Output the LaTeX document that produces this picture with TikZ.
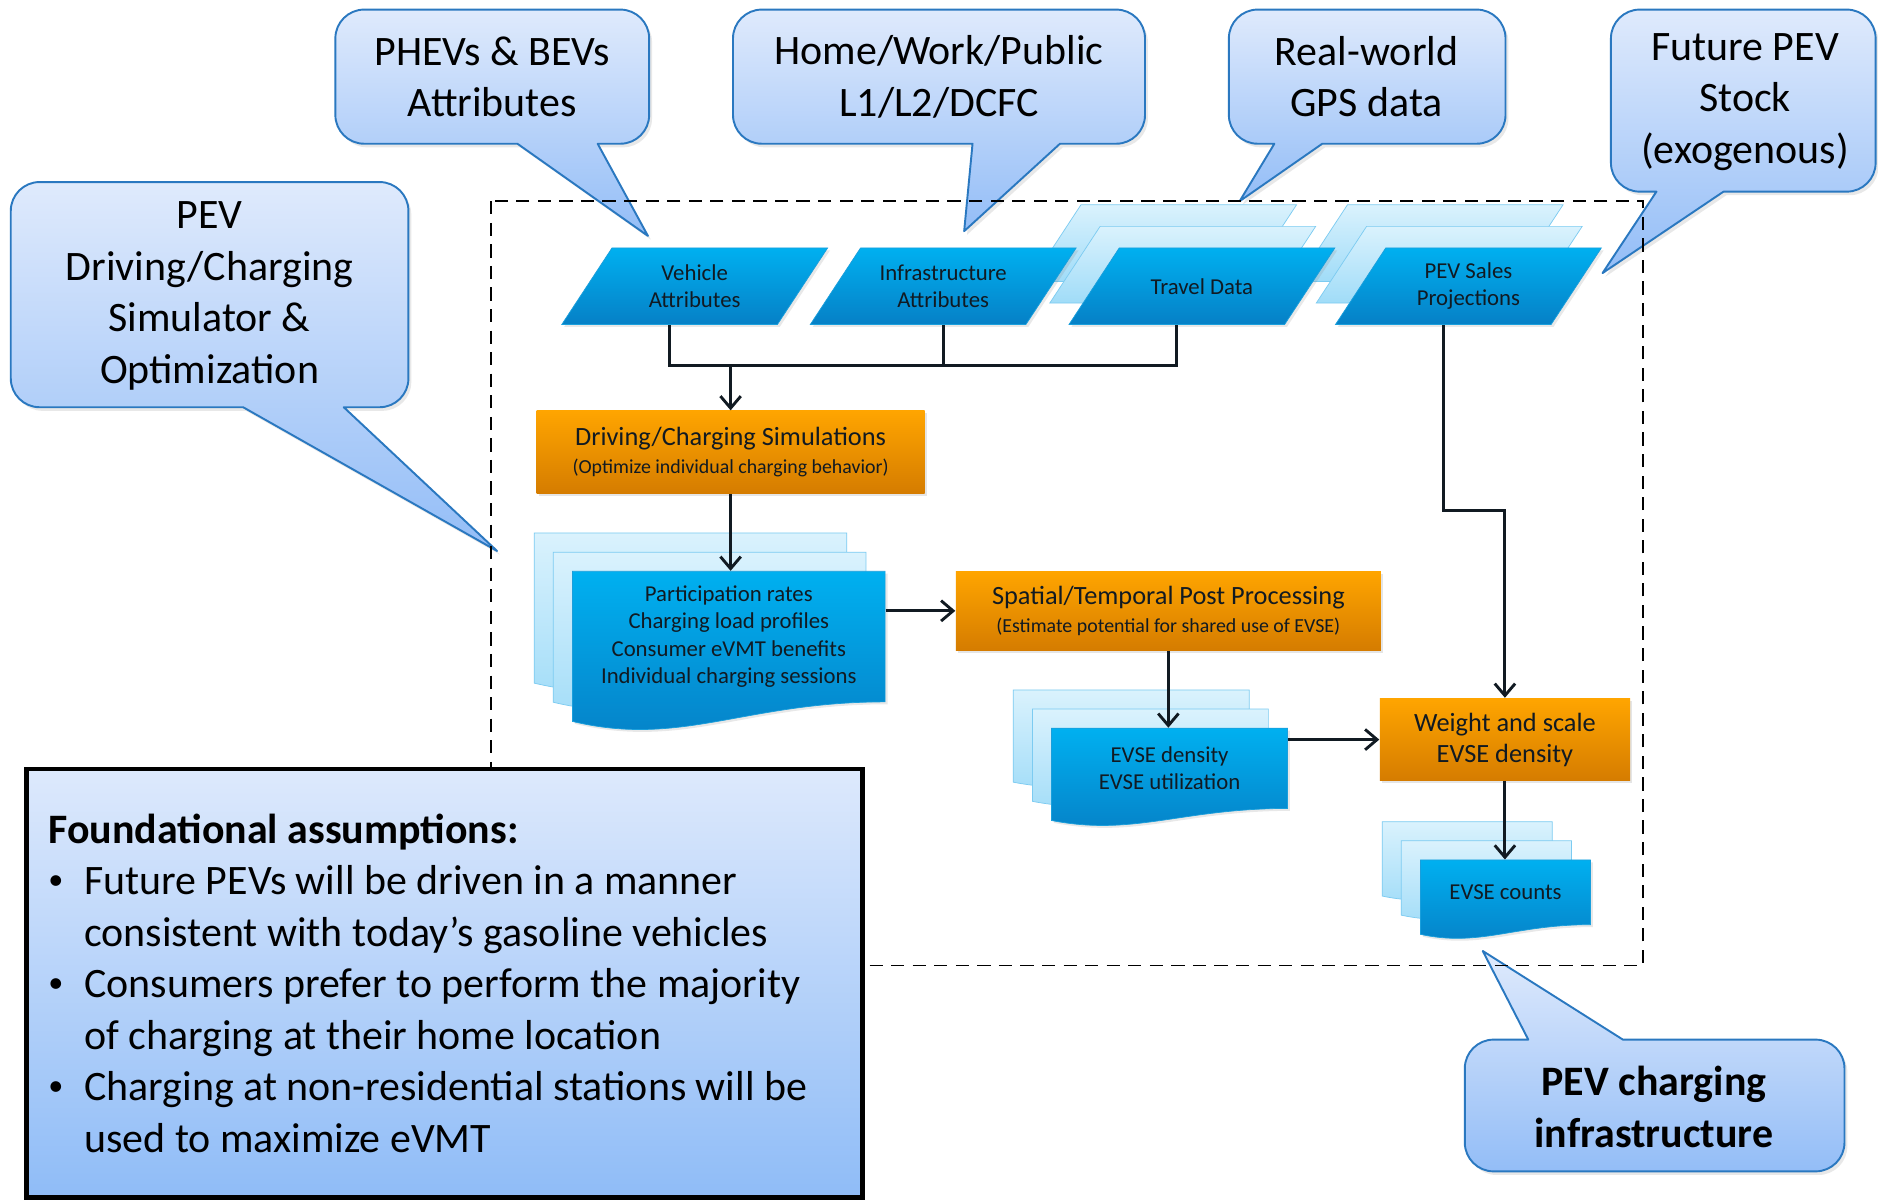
\documentclass[tikz,border=0pt]{standalone}
\usepackage{fontspec}
\setmainfont{Carlito}
\usetikzlibrary{arrows.meta, calc, shadows}

\definecolor{calltop}{HTML}{DFEAFC}
\definecolor{callbot}{HTML}{93BDF7}
\definecolor{callline}{HTML}{2A78C0}
\definecolor{datatop}{HTML}{00B0F0}
\definecolor{databot}{HTML}{0680C6}
\definecolor{dataline}{HTML}{1A9FDC}
\definecolor{ghosttop}{HTML}{DAF2FD}
\definecolor{ghostbot}{HTML}{A0DCF8}
\definecolor{ghostline}{HTML}{7CCBF1}
\definecolor{proctop}{HTML}{FFA500}
\definecolor{procbot}{HTML}{D57C00}
\definecolor{notetop}{HTML}{DDE9FC}
\definecolor{notebot}{HTML}{8FBCF7}
\definecolor{ink}{HTML}{111A22}

\tikzset{
  balloon/.style={
    draw=callline, line width=0.8pt, line join=round,
    top color=calltop, bottom color=callbot,
    drop shadow={shadow xshift=1.2pt, shadow yshift=-1.5pt, opacity=0.18},
  },
  balloon text/.style={align=center, inner sep=0pt, font=\fontsize{17.5}{21.5}\selectfont},
  datafront/.style={draw=dataline, line width=0.3pt, top color=datatop, bottom color=databot,
    drop shadow={shadow xshift=1pt, shadow yshift=-1pt, opacity=0.18}},
  dataghost/.style={draw=ghostline, line width=0.3pt, top color=ghosttop, bottom color=ghostbot},
  box text/.style={align=center, inner sep=0pt, text=ink, font=\fontsize{9.5}{11.5}\selectfont},
  process/.style={
    rectangle, inner sep=0pt, top color=proctop, bottom color=procbot,
    align=center, text=ink,
    drop shadow={shadow xshift=1pt, shadow yshift=-1pt, opacity=0.2},
  },
  wire/.style={draw=ink, line width=1.2pt},
  flow/.style={wire, -{Straight Barb[length=5pt, width=8.5pt]}},
  dashframe/.style={draw=black, line width=0.7pt, dash pattern=on 5.5pt off 3.5pt},
  notebox/.style={rectangle, draw=black, line width=2pt, top color=notetop, bottom color=notebot},
}

% rounded box with a pointer on the bottom edge: box x0 y0 x1 y1, base a b, tip
\newcommand{\balloondown}[8]{%
  \path[balloon] (#1+24,#2) -- (#3-24,#2)
    .. controls (#3-10.8,#2) and (#3,#2+10.8) .. (#3,#2+24)
    -- (#3,#4-24) .. controls (#3,#4-10.8) and (#3-10.8,#4) .. (#3-24,#4)
    -- (#6,#4) -- (#7,#8) -- (#5,#4) -- (#1+24,#4)
    .. controls (#1+10.8,#4) and (#1,#4-10.8) .. (#1,#4-24)
    -- (#1,#2+24) .. controls (#1,#2+10.8) and (#1+10.8,#2) .. (#1+24,#2) -- cycle;}
% same, pointer on the top edge
\newcommand{\balloonup}[8]{%
  \path[balloon] (#1+24,#2) -- (#5,#2) -- (#7,#8) -- (#6,#2) -- (#3-24,#2)
    .. controls (#3-10.8,#2) and (#3,#2+10.8) .. (#3,#2+24)
    -- (#3,#4-24) .. controls (#3,#4-10.8) and (#3-10.8,#4) .. (#3-24,#4)
    -- (#1+24,#4)
    .. controls (#1+10.8,#4) and (#1,#4-10.8) .. (#1,#4-24)
    -- (#1,#2+24) .. controls (#1,#2+10.8) and (#1+10.8,#2) .. (#1+24,#2) -- cycle;}
% slanted data block around centre cx cy
\newcommand{\slab}[3]{%
  \path[#3] (#1-69,#2-32) -- (#1+111,#2-32) -- (#1+69,#2+32) -- (#1-111,#2+32) -- cycle;}
% document sheet with wavy bottom: x y w h style
\newcommand{\docsheet}[5]{%
  \path[#5] (#1,#2) -- (#1+#3,#2) -- (#1+#3,#2+#4)
    .. controls (#1+0.55*#3,#2+1.0*#4) and (#1+0.35*#3,#2+1.35*#4) .. (#1,#2+1.15*#4) -- cycle;}

\begin{document}
\begin{tikzpicture}[x=0.5pt, y=-0.5pt]
  \useasboundingbox (0,0) rectangle (1568,1002);
  \fill[white] (0,0) rectangle (1568,1002);

  % callouts
  \balloondown{280}{8}{542}{120}{432}{499}{541}{197}
  \balloondown{612}{8}{956}{120}{812}{885}{805}{193}
  \balloondown{1026}{8}{1257}{120}{1064}{1104}{1035}{168}
  \balloondown{1345}{8}{1566}{160}{1383}{1439}{1338}{228}
  \balloondown{9}{152}{341}{340}{203}{287}{415}{460}
  \balloonup{1223}{868}{1540}{978}{1276}{1355}{1238}{794}

  \node[balloon text] (cphev)  at (411,64)   {PHEVs \& BEVs\\Attributes};
  \node[balloon text] (chome)  at (784,64)   {Home/Work/Public\\L1/L2/DCFC};
  \node[balloon text] (cgps)   at (1141,64)  {Real-world\\GPS data};
  \node[balloon text] (cstock) at (1457,85)  {Future PEV\\Stock\\(exogenous)};
  \node[balloon text] (csim)   at (175,247)  {PEV\\Driving/Charging\\Simulator \&\\Optimization};
  \node[balloon text, font=\fontsize{17.5}{21.5}\selectfont\bfseries] (cinfra) at (1381,924) {PEV charging\\infrastructure};

  \draw[dashframe] (410,168) rectangle (1372,806);

  % inputs
  \slab{971.5}{203}{dataghost}
  \slab{987.5}{221}{dataghost}
  \slab{1194}{203}{dataghost}
  \slab{1210}{221}{dataghost}
  \slab{580}{239}{datafront}
  \slab{787.5}{239}{datafront}
  \slab{1003.5}{239}{datafront}
  \slab{1226}{239}{datafront}
  \node[box text, minimum width=90pt, minimum height=32pt] (veh) at (580,239)    {Vehicle\\Attributes};
  \node[box text, minimum width=90pt, minimum height=32pt] (inf) at (787.5,239)  {Infrastructure\\Attributes};
  \node[box text, minimum width=90pt, minimum height=32pt] (tr)  at (1003.5,239) {Travel Data};
  \node[box text, minimum width=90pt, minimum height=32pt] (ps)  at (1226,239)   {PEV Sales\\Projections};

  \coordinate (vbm) at ($(veh.south)+(-21,0)$);
  \coordinate (tbm) at ($(tr.south)+(-21,0)$);
  \coordinate (sbm) at ($(ps.south)+(-21,0)$);
  \coordinate (join) at (610,305);
  \coordinate (bend) at (1256.5,426);

  % processes
  \node[process, minimum width=162pt, minimum height=34.5pt, font=\fontsize{11}{11.5}\selectfont] (sim) at (610,377.5)
    {Driving/Charging Simulations\\{\fontsize{8.3}{11.5}\selectfont (Optimize individual charging behavior)}};
  \node[process, minimum width=177.5pt, minimum height=33pt, font=\fontsize{11}{11.5}\selectfont] (sp) at (975.5,510)
    {Spatial/Temporal Post Processing\\{\fontsize{8.3}{11.5}\selectfont (Estimate potential for shared use of EVSE)}};
  \node[process, minimum width=104.5pt, minimum height=34.5pt, font=\fontsize{11}{13}\selectfont] (wt) at (1256.5,617.5)
    {Weight and scale\\EVSE density};

  % outputs
  \docsheet{446}{445}{261}{109}{dataghost}
  \docsheet{462}{461}{261}{109}{dataghost}
  \docsheet{478}{477}{261}{109}{datafront}
  \node[box text, minimum width=130.5pt, minimum height=54.5pt] (d1) at (608.5,531.5)
    {Participation rates\\Charging load profiles\\Consumer eVMT benefits\\Individual charging sessions};

  \docsheet{846}{576}{197}{67}{dataghost}
  \docsheet{862}{592}{197}{67}{dataghost}
  \docsheet{878}{608}{197}{67}{datafront}
  \node[box text, minimum width=98.5pt, minimum height=33.5pt] (d2) at (976.5,641.5)
    {EVSE density\\EVSE utilization};

  \docsheet{1154}{686}{142}{54}{dataghost}
  \docsheet{1170}{702}{142}{54}{dataghost}
  \docsheet{1186}{718}{142}{54}{datafront}
  \node[box text, minimum width=71pt, minimum height=27pt] (d3) at (1257,745) {EVSE counts};

  % connectors
  \draw[wire] (vbm) |- (join) -| (tbm);
  \draw[wire] (inf.south) -- (inf.south |- join);
  \draw[flow] (join) -- (sim.north);
  \draw[flow] (sim.south) -- (sim.south |- d1.north);
  \draw[flow] (d1.east |- sp.west) -- (sp.west);
  \draw[flow] (sp.south) -- (sp.south |- d2.north);
  \draw[flow] (d2.east |- wt.west) -- (wt.west);
  \draw[flow] (sbm) |- (bend) -- (wt.north);
  \draw[flow] (wt.south) -- (wt.south |- d3.north);

  % assumptions
  \node[notebox, minimum width=349pt, minimum height=179pt, inner sep=0pt] (fbox) at (371,821) {};
  \node[anchor=base west, inner sep=0pt, font=\fontsize{17.5}{21.5}\selectfont] (ftext) at (40,704)
    {\begin{tabular}[t]{@{}l@{\hspace{8.7pt}}l@{}}
      \multicolumn{2}{@{}l}{\textbf{Foundational assumptions:}}\\
      \raisebox{0.12em}{\scalebox{0.72}{\textbullet}} & Future PEVs will be driven in a manner\\
                  & consistent with today’s gasoline vehicles\\
      \raisebox{0.12em}{\scalebox{0.72}{\textbullet}} & Consumers prefer to perform the majority\\
                  & of charging at their home location\\
      \raisebox{0.12em}{\scalebox{0.72}{\textbullet}} & Charging at non-residential stations will be\\
                  & used to maximize eVMT
    \end{tabular}};
\end{tikzpicture}
\end{document}
